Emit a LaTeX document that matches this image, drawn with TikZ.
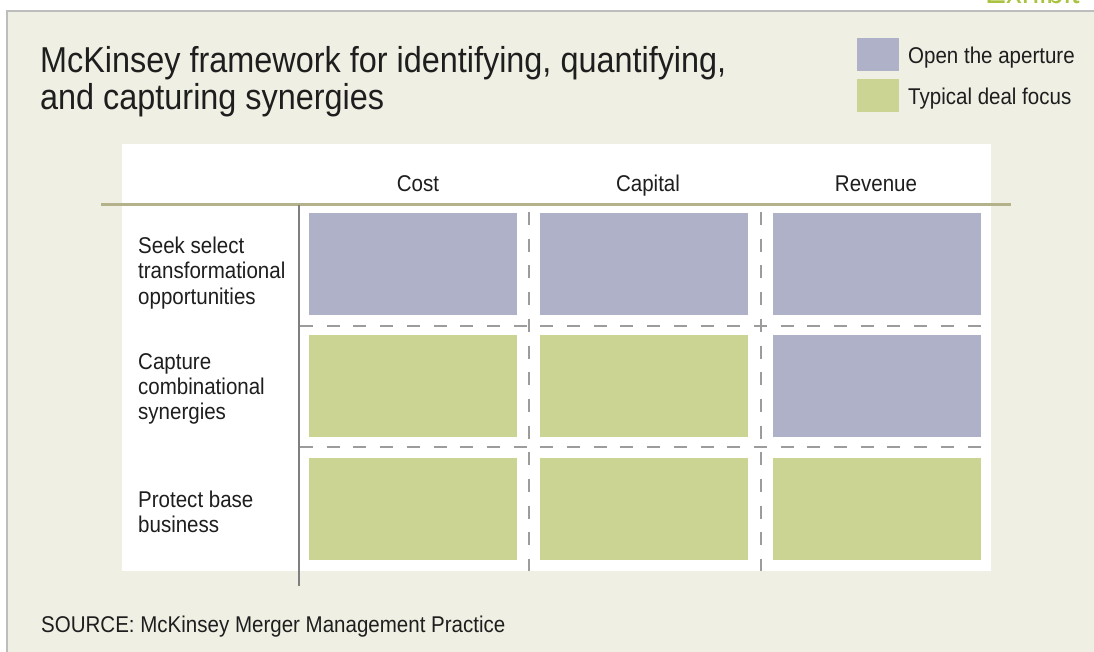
\documentclass[tikz,border=0pt]{standalone}
\usepackage{fontspec}
\setmainfont{Liberation Sans}[FakeStretch=0.9]
\definecolor{beige}{HTML}{EFEFE3}
\definecolor{framegray}{HTML}{BDBDBD}
\definecolor{aperture}{HTML}{AFB1C9}
\definecolor{dealgreen}{HTML}{CCD494}
\definecolor{olive}{HTML}{B3B28A}
\definecolor{axisgray}{HTML}{7F7F7F}
\definecolor{dashgray}{HTML}{9C9C9C}
\definecolor{exhibitgreen}{HTML}{A9C23F}
\definecolor{txt}{HTML}{1E1E1E}
\tikzset{
  cellP/.style={fill=aperture, draw=none, inner sep=0pt, outer sep=0pt, anchor=north west, minimum width=208pt, minimum height=102pt},
  cellG/.style={cellP, fill=dealgreen},
  lbl/.style={inner sep=0pt, text=txt, font=\fontsize{22.8}{25.3}\selectfont, align=left},
  hdr/.style={inner sep=0pt, text=txt, font=\fontsize{22.8}{25.3}\selectfont},
  gridline/.style={dashgray, line width=1.8pt, dash pattern=on 13pt off 13.7pt},
  swatch/.style={inner sep=0pt, outer sep=0pt, anchor=north west, minimum width=42pt, minimum height=33pt}
}
\begin{document}
\begin{tikzpicture}[x=1pt,y=-1pt]
\useasboundingbox (0,0) rectangle (1094,652);
% panel
\fill[beige] (7,11) rectangle (1094,652);
\draw[framegray, line width=2.5pt] (7,652) -- (7,11) -- (1094,11);
\begin{scope}
\clip (0,0) rectangle (1094,652);
\node[inner sep=0pt, anchor=base west, text=exhibitgreen, font=\fontsize{35}{35}\selectfont] (exhibit) at (985,4) {Exhibit};
\end{scope}
% title
\node[lbl, anchor=base west, font=\fontsize{36}{37}\selectfont] (title1) at (40,73) {McKinsey framework for identifying, quantifying,};
\node[lbl, anchor=base west, font=\fontsize{36}{37}\selectfont] (title2) at (40,110) {and capturing synergies};
% legend
\node[swatch, fill=aperture] (legP) at (857,38) {};
\node[swatch, fill=dealgreen] (legG) at (857,79) {};
\node[hdr, anchor=base west] (legPt) at (908,63.5) {Open the aperture};
\node[hdr, anchor=base west] (legGt) at (908,104.5) {Typical deal focus};
% table panel
\fill[white] (122,144) rectangle (991,571);
% headers
\node[hdr, anchor=base] (hcost) at (418,192) {Cost};
\node[hdr, anchor=base] (hcap) at (648,192) {Capital};
\node[hdr, anchor=base] (hrev) at (876,192) {Revenue};
% cells
\node[cellP] (c11) at (309,213) {};
\node[cellP] (c12) at (540,213) {};
\node[cellP] (c13) at (773,213) {};
\node[cellG] (c21) at (309,335) {};
\node[cellG] (c22) at (540,335) {};
\node[cellP] (c23) at (773,335) {};
\node[cellG] (c31) at (309,458) {};
\node[cellG] (c32) at (540,458) {};
\node[cellG] (c33) at (773,458) {};
% grid coordinates
\coordinate (v1t) at (529,212); \coordinate (v1b) at (529,571);
\coordinate (v2t) at (761,212); \coordinate (v2b) at (761,571);
\coordinate (h1l) at (300,326); \coordinate (h1r) at (981,326);
\coordinate (h2l) at (300,447); \coordinate (h2r) at (981,447);
\draw[gridline] (v1t) -- (v1b);
\draw[gridline] (v2t) -- (v2b);
\draw[gridline] (h1l) -- (h1r);
\draw[gridline] (h2l) -- (h2r);
% axes
\coordinate (ol) at (101,205); \coordinate (or) at (1011,205);
\draw[olive, line width=3pt] (ol) -- (or);
\coordinate (at) at (299,205); \coordinate (ab) at (299,586);
\draw[axisgray, line width=2.5pt] (at) -- (ab);
% row labels
\node[lbl, anchor=west] (r1) at (138,273) {Seek select\\transformational\\opportunities};
\node[lbl, anchor=west] (r2) at (138,389) {Capture\\combinational\\synergies};
\node[lbl, anchor=west] (r3) at (138,512) {Protect base\\business};
% source
\node[lbl, anchor=base west] (src) at (41,632) {SOURCE: McKinsey Merger Management Practice};
\end{tikzpicture}
\end{document}
